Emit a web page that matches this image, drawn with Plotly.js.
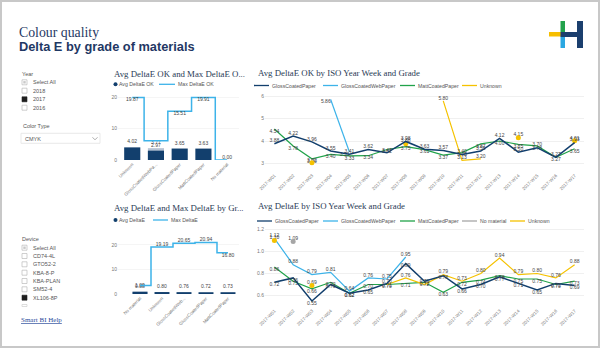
<!DOCTYPE html>
<html><head><meta charset="utf-8">
<script src="https://cdn.plot.ly/plotly-3.0.1.min.js"></script>
<style>html,body{margin:0;padding:0;background:#fff;}#chart{width:600px;height:348px;}</style>
</head><body><div id="chart"></div>
<script>
// ---------------- DATA ----------------
const gradeCats1 = ['Unknown','GlossCoatedWebPa...','GlossCoatedPaper','MattCoatedPaper','No material'];
const avgOK      = [4.02, 2.97, 3.65, 3.63, null];
const avgOKTotal = [null, 3.77, null, null, null];
const maxOK      = [19.87, 6.10, 15.51, 19.91, 0.00];
const maxOKHiddenLabels = [1];

const gradeCats2 = ['No material','Unknown','GlossCoatedWeb...','GlossCoatedPaper','MattCoatedPaper'];
const avgAll      = [0.88, 0.80, 0.76, 0.72, 0.73];
const avgAllTotal = [1.09, null, null, null, null];
const maxAll      = [3.50, 19.19, 20.65, 20.94, 16.80];
const maxAllHiddenLabels = [0];

const weeks = ['2017-W01','2017-W02','2017-W03','2017-W04','2017-W05','2017-W06','2017-W07','2017-W08','2017-W09',
               '2017-W10','2017-W11','2017-W12','2017-W13','2017-W14','2017-W15','2017-W16','2017-W17'];

// Avg DeltaE OK by week
const okGlossCoated = [3.88,4.22,3.96,3.55,3.41,3.62,3.47,3.98,3.63,3.57,3.40,3.55,4.12,3.50,3.70,3.27,3.93];
const okGlossWeb    = [null,null,null,5.86,3.51,null,null,null,null,null,null,null,null,null,null,null,null];
const okMatt        = [4.54,3.78,3.20,3.40,3.33,3.34,3.62,3.75,3.61,3.37,3.48,3.87,4.00,3.85,3.78,3.27,3.65];
const okUnknown     = [null,null,3.02,null,null,null,null,3.88,null,5.80,3.13,3.20,null,4.15,null,null,4.01];

// Avg DeltaE by week
const avgGlossCoated = [0.72,0.76,0.55,0.70,0.62,0.65,0.71,0.89,0.73,0.78,0.66,0.70,0.77,0.71,0.65,0.71,0.69];
const avgGlossWeb    = [1.12,0.88,0.79,0.81,0.64,0.76,0.75,0.95,null,null,null,null,null,null,null,null,null];
const avgMatt        = [0.86,0.73,0.66,0.72,0.62,0.70,0.70,0.71,0.72,0.63,0.72,0.74,0.78,0.75,0.75,0.70,0.73];
const avgNoMaterial  = [null,1.09,null,null,null,null,null,null,null,null,null,null,null,null,null,null,null];
const avgUnknown     = [1.10,null,0.69,null,null,null,0.70,0.76,0.70,0.79,0.73,0.80,0.94,0.79,0.80,0.76,0.88];

const yearItems   = ['Select All','2018','2017','2016'];
const deviceItems = ['Select All','CD74-4L','GTO52-2','KBA-8-P','KBA-PLAN','SM52-4','XL106-8P'];

// ---------------- HELPERS ----------------
const W=600,H=348;
const px=x=>x/W, py=y=>1-y/H;
const C_NAVY='#123F6D', C_LBLUE='#3DB3E9', C_GREEN='#21A34A', C_YEL='#F5C200', C_GRAY='#A6A6A6', C_LIGHTBAR='#B7C3D3';
const SANS='Liberation Sans, Arial, sans-serif', SERIF='Liberation Serif, Times New Roman, serif';
const shapes=[], ann=[];
function rect(x0,y0,x1,y1,fill,lineColor,lw){shapes.push({type:'rect',xref:'paper',yref:'paper',x0:px(x0),x1:px(x1),y0:py(y1),y1:py(y0),fillcolor:fill||'rgba(0,0,0,0)',line:{color:lineColor||'rgba(0,0,0,0)',width:lw||0}});}
function seg(x0,y0,x1,y1,color,w){shapes.push({type:'line',xref:'paper',yref:'paper',x0:px(x0),x1:px(x1),y0:py(y0),y1:py(y1),line:{color:color,width:w}});}
function dot(x,y,r,color){shapes.push({type:'circle',xref:'paper',yref:'paper',x0:px(x-r),x1:px(x+r),y0:py(y+r),y1:py(y-r),fillcolor:color,line:{width:0}});}
function txt(x,y,t,size,color,family,anchor){ann.push({xref:'paper',yref:'paper',x:px(x),y:py(y),text:t,showarrow:false,xanchor:anchor||'left',yanchor:'middle',borderpad:0,font:{size:size,color:color,family:family||SANS}});}
const lbl=(arr,hidden)=>arr.map((v,i)=>(v==null||(hidden&&hidden.includes(i)))?'':v.toFixed(2));
const isolated=arr=>arr.map((v,i)=>(v!=null&&(i===0||arr[i-1]==null)&&(i===arr.length-1||arr[i+1]==null))?v:null);

// ---------------- PAGE DECORATION ----------------
rect(1,1,599,347,null,'#c8c8c8',2);
txt(18,32,'Colour quality',13.8,'#1F3864',SERIF);
txt(18,46,'<b>Delta E by grade of materials</b>',12.8,'#1F3864',SANS);
// logo
rect(549,32,561,36.5,'#F6BE00');
rect(560.5,21,565,32,'#22A24C');
rect(560.5,36.5,565,48,'#2AA7E1');
rect(560.5,32,578,37,'#1B3F6E');
rect(577,21,583,48,'#1B3F6E');

// Year slicer
txt(21,73.5,'Year',5.5,'#555');
const yearY=[82.3,90.7,99.3,107.7];
yearItems.forEach((t,i)=>{
  const y=yearY[i];
  if(i===0){rect(22,y-2.5,27,y+2.5,'#fff','#b0b0b0',0.6);rect(23.3,y-1.2,25.7,y+1.2,'#c8c8c8');}
  else if(t==='2017'){rect(22,y-2.5,27,y+2.5,'#1e1e1e','#1e1e1e',0.6);}
  else rect(22,y-2.5,27,y+2.5,'#fff','#b0b0b0',0.6);
  txt(31.5,y,t,5.5,'#555');
});
txt(22,126,'Color Type',5.5,'#555');
rect(21,133.3,100,143.3,'#fff','#e3e3e3',0.8);
txt(24,138.5,'CMYK',5.5,'#555');
shapes.push({type:'path',xref:'paper',yref:'paper',path:`M ${px(92.5)} ${py(137.3)} L ${px(95)} ${py(139.8)} L ${px(97.5)} ${py(137.3)}`,line:{color:'#888',width:0.7}});

// Device slicer
txt(21,239,'Device',5.5,'#555');
const devY=[247.7,256,264.3,272.7,281,289.3,297.7];
deviceItems.forEach((t,i)=>{
  const y=devY[i];
  if(i===0){rect(22,y-2.5,27,y+2.5,'#fff','#b0b0b0',0.6);rect(23.3,y-1.2,25.7,y+1.2,'#c8c8c8');}
  else if(t==='XL106-8P'){rect(22,y-2.5,27,y+2.5,'#1e1e1e','#1e1e1e',0.6);}
  else rect(22,y-2.5,27,y+2.5,'#fff','#b0b0b0',0.6);
  txt(31.5,y,t,5.5,'#555');
});
rect(22,304.5,27,306.5,'#fff','#c8c8c8',0.6);
txt(19.5,319.5,'<u>Smart BI Help</u>',7,'#2B4C9B',SERIF);

// Chart titles & legends
const TCOL='#2A3B55', TSIZE=8.8;
txt(113,74,'Avg DeltaE OK and Max DeltaE O...',TSIZE,TCOL,SERIF);
dot(115.5,84.3,2,C_NAVY); txt(117.5,84.3,'Avg DeltaE OK',5.2,'#555');
seg(159,84.3,175,84.3,C_LBLUE,1.3); txt(177,84.3,'Max DeltaE OK',5.2,'#555');

txt(113,207.5,'Avg DeltaE and Max DeltaE by Gr...',TSIZE,TCOL,SERIF);
dot(115.5,220,2,C_NAVY); txt(117.5,220,'Avg DeltaE',5.2,'#555');
seg(153,220,168,220,C_LBLUE,1.3); txt(170,220,'Max DeltaE',5.2,'#555');

txt(257,73,'Avg DeltaE OK by ISO Year Week and Grade',TSIZE,TCOL,SERIF);
[[254,C_NAVY,'GlossCoatedPaper'],[323,C_LBLUE,'GlossCoatedWebPaper'],[400,C_GREEN,'MattCoatedPaper'],[462,C_YEL,'Unknown']]
 .forEach(([x,c,t])=>{seg(x,85.5,x+15,85.5,c,1.3);txt(x+17,85.5,t,5.2,'#555');});

txt(257,206.5,'Avg DeltaE by ISO Year Week and Grade',TSIZE,TCOL,SERIF);
[[257,C_NAVY,'GlossCoatedPaper'],[323,C_LBLUE,'GlossCoatedWebPaper'],[400,C_GREEN,'MattCoatedPaper'],[462,C_GRAY,'No material'],[510,C_YEL,'Unknown']]
 .forEach(([x,c,t])=>{seg(x,221,x+15,221,c,1.3);txt(x+17,221,t,5.2,'#555');});

// ---------------- TRACES ----------------
const LF={size:5,color:'#444',family:SANS};
const traces=[];
// chart 1
traces.push({type:'bar',x:gradeCats1,y:avgOKTotal,marker:{color:C_LIGHTBAR},width:0.68,text:lbl(avgOKTotal),textposition:'outside',textfont:LF,cliponaxis:false,xaxis:'x',yaxis:'y',hoverinfo:'skip'});
traces.push({type:'bar',x:gradeCats1,y:avgOK,marker:{color:C_NAVY},width:0.68,text:lbl(avgOK),textposition:'outside',textfont:LF,cliponaxis:false,xaxis:'x',yaxis:'y',hoverinfo:'skip'});
traces.push({type:'scatter',mode:'lines+text',x:gradeCats1,y:maxOK,line:{color:C_LBLUE,width:1.5,shape:'hvh'},text:lbl(maxOK,maxOKHiddenLabels),
  textposition:['bottom center','bottom center','bottom center','bottom center','top center'],textfont:LF,cliponaxis:false,xaxis:'x',yaxis:'y'});
// chart 2
traces.push({type:'bar',x:gradeCats2,y:avgAllTotal,marker:{color:C_LIGHTBAR},width:0.68,text:lbl(avgAllTotal),textposition:'outside',textfont:LF,cliponaxis:false,xaxis:'x2',yaxis:'y2'});
traces.push({type:'bar',x:gradeCats2,y:avgAll,marker:{color:C_NAVY},width:0.68,text:lbl(avgAll),textposition:'outside',textfont:LF,cliponaxis:false,xaxis:'x2',yaxis:'y2'});
traces.push({type:'scatter',mode:'lines+text',x:gradeCats2,y:maxAll,line:{color:C_LBLUE,width:1.5,shape:'hvh'},text:lbl(maxAll,maxAllHiddenLabels),
  textposition:['top center','top center','top center','top center','bottom center'],textfont:LF,cliponaxis:false,xaxis:'x2',yaxis:'y2'});
// chart 3 & 4
function lineSeries(arr,color,pos,xa,ya,w){
  traces.push({type:'scatter',mode:'lines+text',x:weeks,y:arr,line:{color:color,width:w||1.2},text:lbl(arr),textposition:pos,textfont:LF,cliponaxis:false,connectgaps:false,xaxis:xa,yaxis:ya});
  traces.push({type:'scatter',mode:'markers',x:weeks,y:isolated(arr),marker:{color:color,size:5},cliponaxis:false,xaxis:xa,yaxis:ya});
}
lineSeries(okMatt,C_GREEN,'bottom center','x3','y3');
lineSeries(okGlossWeb,C_LBLUE,'bottom left','x3','y3');
lineSeries(okUnknown,C_YEL,'top center','x3','y3');
lineSeries(okGlossCoated,C_NAVY,'top center','x3','y3',1.5);

lineSeries(avgMatt,C_GREEN,'bottom center','x4','y4');
lineSeries(avgGlossWeb,C_LBLUE,'top center','x4','y4');
lineSeries(avgNoMaterial,C_GRAY,'top center','x4','y4');
lineSeries(avgUnknown,C_YEL,'top center','x4','y4');
lineSeries(avgGlossCoated,C_NAVY,'bottom center','x4','y4',1.5);

// ---------------- LAYOUT ----------------
const xcat={type:'category',tickangle:-45,tickfont:{size:4.5,color:'#777',family:SANS},showgrid:false,ticks:'',showline:false,zeroline:false,fixedrange:true};
const yax={tickfont:{size:5,color:'#777',family:SANS},gridcolor:'#ececec',gridwidth:0.8,zeroline:false,showline:false,ticks:'',fixedrange:true};
const layout={
  width:600,height:348,margin:{l:0,r:0,t:0,b:0},paper_bgcolor:'#fff',plot_bgcolor:'rgba(0,0,0,0)',
  showlegend:false,barmode:'overlay',font:{family:SANS,size:6,color:'#666'},hovermode:false,
  xaxis: Object.assign({},xcat,{domain:[px(118),px(239)],range:[-0.6,4.5],anchor:'y'}),
  yaxis: Object.assign({},yax,{domain:[py(160),py(94)],range:[0,21],tickvals:[0,10,20],anchor:'x',gridcolor:'#f3f3f3'}),
  xaxis2:Object.assign({},xcat,{domain:[px(118),px(239)],range:[-1.0,4.5],anchor:'y2'}),
  yaxis2:Object.assign({},yax,{domain:[py(294),py(240)],range:[0,22],tickvals:[0,10,20],anchor:'x2',gridcolor:'#f3f3f3'}),
  xaxis3:Object.assign({},xcat,{domain:[px(265),px(584)],range:[-0.5,16.5],anchor:'y3'}),
  yaxis3:Object.assign({},yax,{domain:[py(171.1),py(95.3)],range:[2.65,6.05],tickvals:[3,4,5,6],anchor:'x3'}),
  xaxis4:Object.assign({},xcat,{domain:[px(265),px(584)],range:[-0.5,16.5],anchor:'y4'}),
  yaxis4:Object.assign({},yax,{domain:[py(306.5),py(227.3)],range:[0.5,1.22],tickvals:[0.6,0.8,1.0,1.2],tickformat:'.1f',anchor:'x4'}),
  shapes:shapes,annotations:ann
};
Plotly.newPlot('chart',traces,layout,{displayModeBar:false,staticPlot:true});
</script></body></html>
